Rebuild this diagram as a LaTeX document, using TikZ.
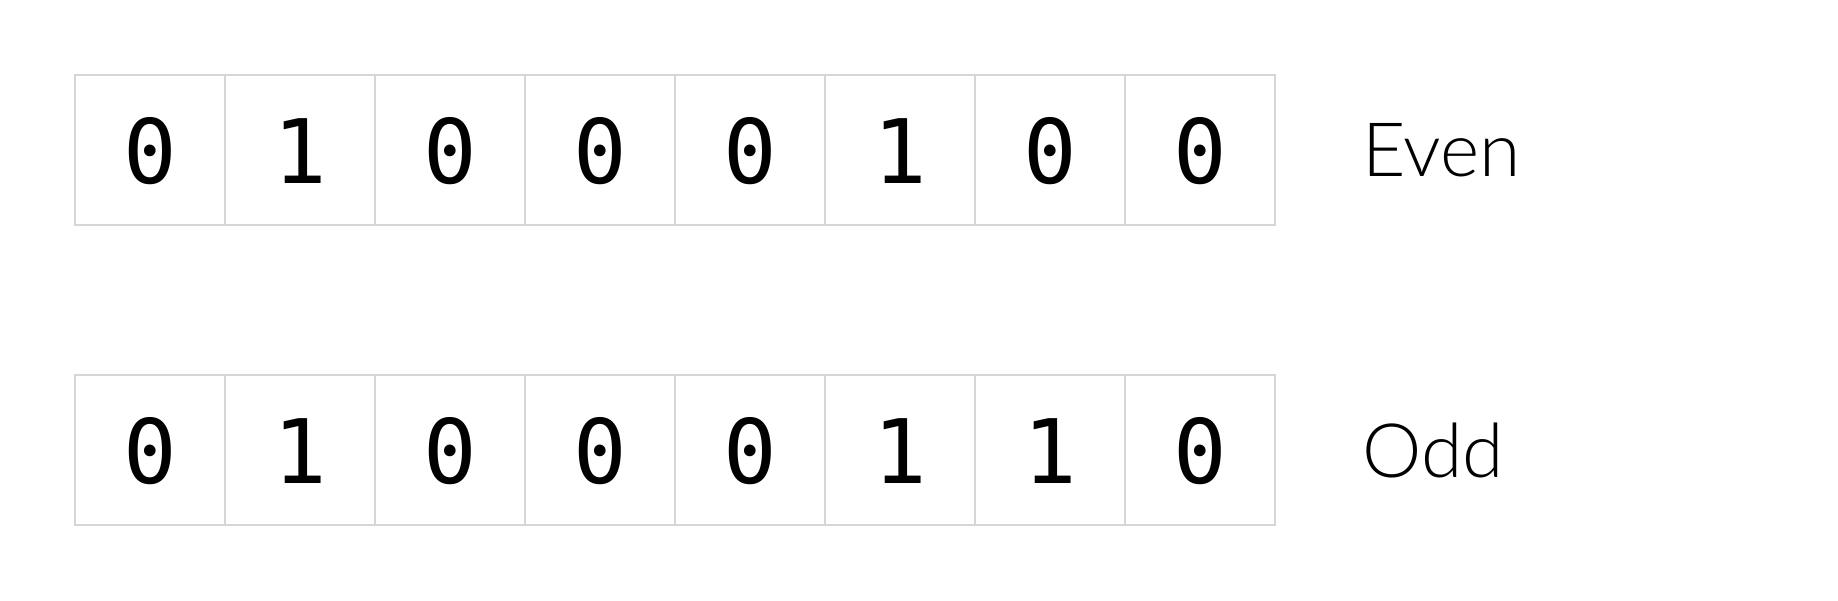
\documentclass[tikz,border=0pt]{standalone}
\usepackage{fontspec}
\newfontfamily\bitfont{DejaVu Sans Mono}
\newfontfamily\tagfont{Lato Light}
\usepackage{tikz}
\usetikzlibrary{positioning}

\definecolor{cellgray}{HTML}{D6D6D6}

\tikzset{
  bit/.style={draw=cellgray, line width=2pt, minimum size=150pt, inner sep=0pt,
    text height=68pt, text depth=2pt,
    font=\bitfont\fontsize{89}{90}\selectfont},
  parity/.style={inner sep=0pt, font=\tagfont\fontsize{75}{80}\selectfont}
}

\begin{document}
\begin{tikzpicture}[x=1pt, y=-1pt]
\useasboundingbox (0,0) rectangle (1838,600);

% even parity row
\foreach \b [count=\i] in {0,1,0,0,0,1,0,0}
  \node[bit] (e\i) at (150*\i,150) {\b};
\node[parity, right=86pt of e8] (even) {Even};

% odd parity row
\foreach \b [count=\i] in {0,1,0,0,0,1,1,0}
  \node[bit] (o\i) at (150*\i,450) {\b};
\node[parity, right=86pt of o8] (odd) {Odd};
\end{tikzpicture}
\end{document}
